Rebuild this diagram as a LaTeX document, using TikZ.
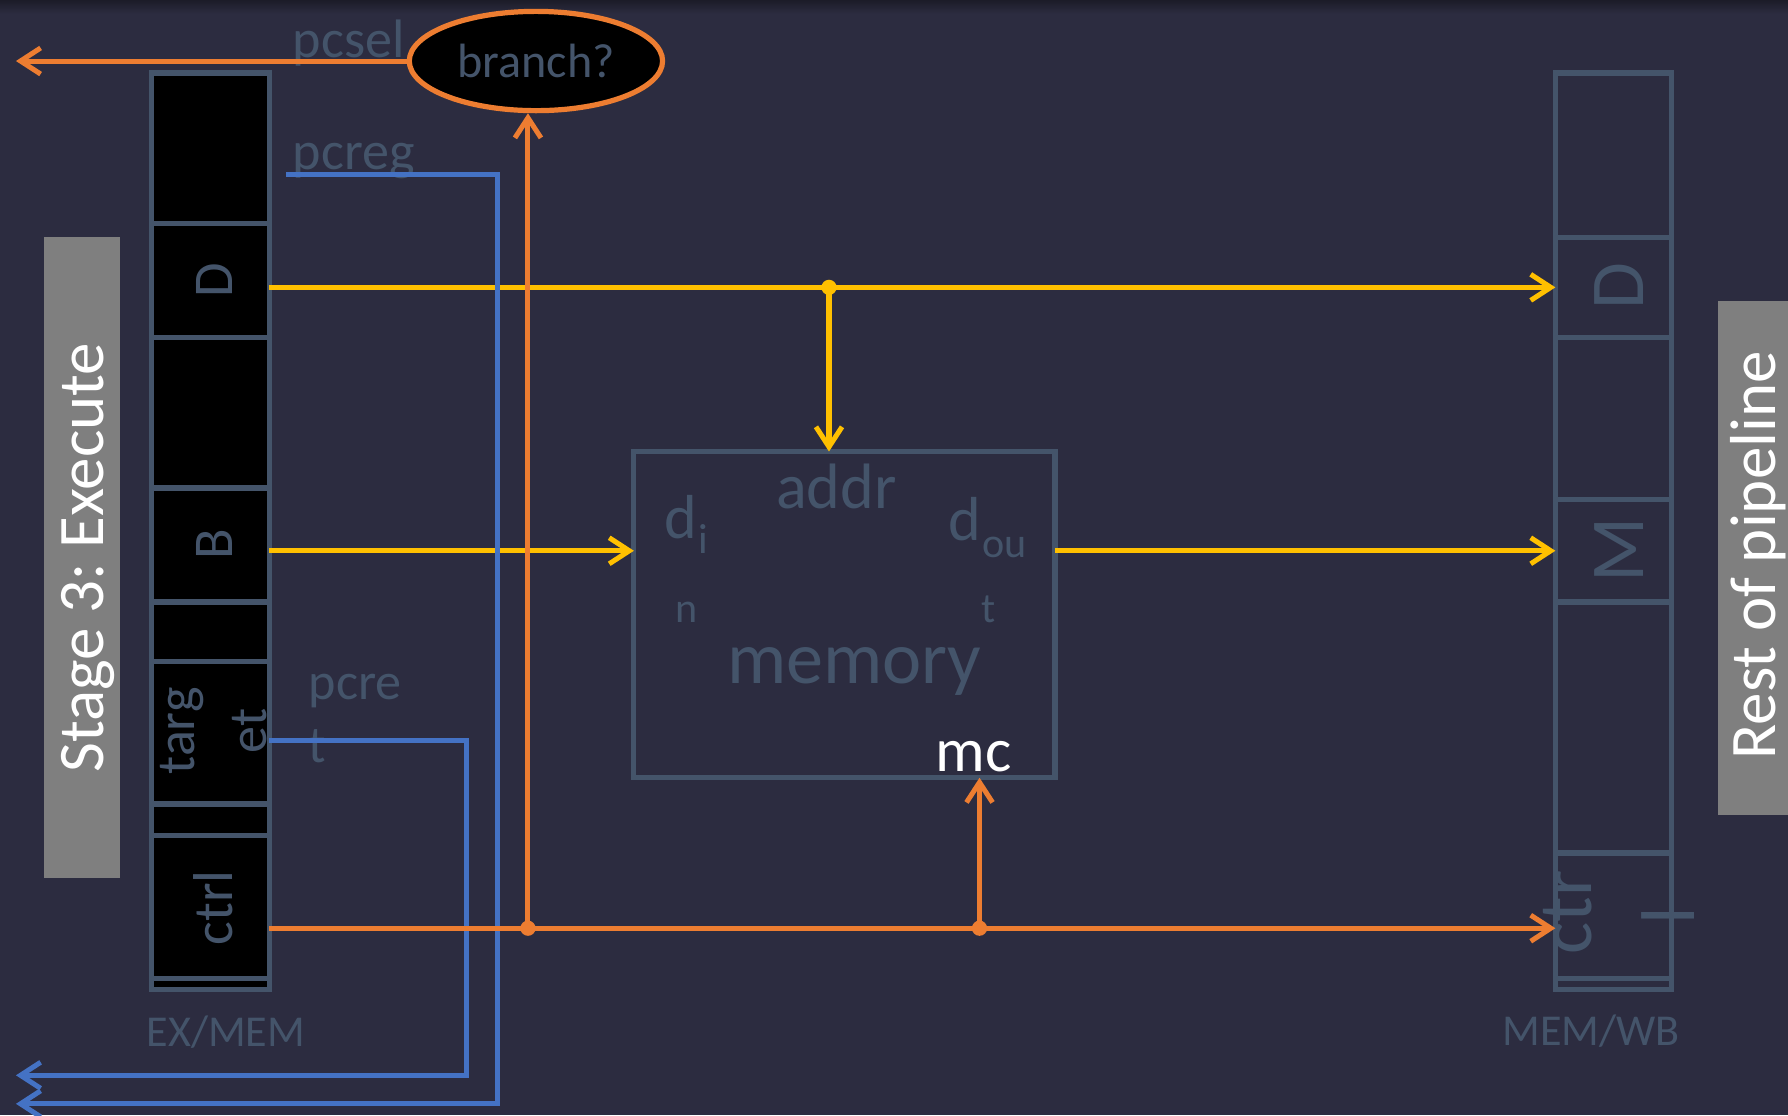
\documentclass[tikz,border=0pt]{standalone}
\usepackage{fontspec}
\setmainfont{Carlito}
\frenchspacing
\usetikzlibrary{arrows.meta,shapes.geometric}

\definecolor{bgdark}{HTML}{2C2C40}
\definecolor{bgtop}{HTML}{1C1C28}
\definecolor{slate}{HTML}{44546A}
\definecolor{ctrlorange}{HTML}{ED7D31}
\definecolor{datayellow}{HTML}{FFC000}
\definecolor{pcblue}{HTML}{4472C4}
\definecolor{stagegray}{HTML}{7F7F7F}

\newcommand{\txtsize}[1]{\fontsize{#1}{#1}\selectfont}

\tikzset{
  excell/.style={draw=slate, fill=black, line width=1.3pt, anchor=north west,
    minimum width=1.03cm, inner sep=0pt, outer sep=0pt},
  wbcell/.style={draw=slate, line width=1.3pt, anchor=north west,
    minimum width=1.02cm, inner sep=0pt, outer sep=0pt},
  lbl/.style={text=slate, inner sep=0pt, anchor=base west},
  vlbl/.style={text=slate, inner sep=0pt, rotate=90, anchor=base},
  wire/.style={line width=1.25pt, -{Straight Barb[length=5pt,width=6.5pt]}},
  ywire/.style={wire, draw=datayellow},
  owire/.style={wire, draw=ctrlorange},
  bwire/.style={wire, draw=pcblue},
}

\begin{document}
\begin{tikzpicture}[x=0.01cm, y=-0.01cm]
  % background
  \fill[bgdark] (0,0) rectangle (1568,978);
  \shade[top color=bgtop, bottom color=bgdark] (0,0) rectangle (1568,12);
  \useasboundingbox (0,0) rectangle (1568,978);

  % stage banners
  \fill[stagegray] (39,208) rectangle (105,770);
  \node[rotate=90, anchor=base, inner sep=0pt, text=white, font=\txtsize{16.2}] (stagelbl) at (90.6,489) {Stage 3: Execute};
  \fill[stagegray] (1507,264) rectangle (1568,715);
  \node[rotate=90, anchor=base, inner sep=0pt, text=white, font=\txtsize{16.2}] (restlbl) at (1557,487) {Rest of pipeline};

  % EX/MEM register
  \foreach \n/\t/\b in {ex0/64/196, exD/196/296, ex2/296/428, exB/428/528, ex4/528/580,
      extarget/580/705, ex6/705/733, exctrl/733/858, ex8/858/868}
    \node[excell, minimum height={(\b-\t)*0.01cm}] (\n) at (133,\t) {};
  \node[vlbl, font=\txtsize{14}] (exDlbl) at (204,246) {D};
  \node[vlbl, font=\txtsize{14}] (exBlbl) at (204,477) {B};
  \node[vlbl, font=\txtsize{13.5}] (targlbl) at (171,641) {targ};
  \node[vlbl, font=\txtsize{13.5}] (etlbl) at (234,641) {et};
  \node[vlbl, font=\txtsize{14}] (exctrllbl) at (204,796) {ctrl};
  \node[lbl, font=\txtsize{11}] (exmemlbl) at (128,918) {EX/MEM};

  % MEM/WB register
  \foreach \n/\t/\b in {wb0/64/208, wbD/208/296, wb2/296/438, wbM/438/528, wb4/528/748,
      wbctrl/748/858, wb6/858/868}
    \node[wbcell, minimum height={(\b-\t)*0.01cm}] (\n) at (1364,\t) {};
  \node[vlbl, font=\txtsize{19}] (wbDlbl) at (1441,251) {D};
  \node[vlbl, font=\txtsize{19}] (wbMlbl) at (1441,482) {M};
  \node[vlbl, font=\txtsize{19}] (ctrlbl) at (1396,800) {ctr};
  \node[vlbl, font=\txtsize{19}] (llbl) at (1486,803) {l};
  \node[lbl, font=\txtsize{11}] (memwblbl) at (1317,917) {MEM/WB};

  % data memory
  \node[draw=slate, line width=1.3pt, minimum width=3.69cm, minimum height=2.86cm,
    inner sep=0pt, outer sep=0pt] (mem) at (740.5,539) {};
  \node[lbl, font=\txtsize{16}] (addrlbl) at (680,445.5) {addr};
  \node[lbl, font=\txtsize{15.5}] (dinlbl) at (582,472) {d};
  \node[lbl, font=\txtsize{10.5}] (dinsub) at (612,485) {i};
  \node[lbl, font=\txtsize{10.5}] (dinsubn) at (592,545.6) {n};
  \node[lbl, font=\txtsize{15.5}] (doutlbl) at (831,473.6) {d};
  \node[lbl, font=\txtsize{10.5}] (doutsub) at (861,488.5) {ou};
  \node[lbl, font=\txtsize{10.5}] (doutsubt) at (859.6,546) {t};
  \node[lbl, font=\txtsize{18.5}] (memlbl) at (637,599) {memory};
  \node[lbl, text=white, font=\txtsize{15.5}] (mclbl) at (820,677) {mc};

  % branch decision
  \node[ellipse, draw=ctrlorange, fill=black, line width=1.3pt, minimum width=2.22cm,
    minimum height=0.87cm, inner sep=0pt, text=slate, font=\txtsize{12}] (branch) at (470,53.5) {branch?};
  \node[lbl, font=\txtsize{13.5}] (pcsellbl) at (256,50) {pcsel};
  \node[lbl, font=\txtsize{13.5}] (pcreglbl) at (256,149) {pcreg};
  \node[lbl, font=\txtsize{13}] (pcretlbl) at (270,613) {pcre};
  \node[lbl, font=\txtsize{13}] (pcretlblt) at (270,669) {t};

  % wire end points and taps
  \coordinate (pcselout) at (14,53.5);
  \coordinate (addrtap) at (727,252);
  \coordinate (brtap) at (463,814);
  \coordinate (mctap) at (859,814);
  \coordinate (pcregsrc) at (251,153);
  \coordinate (pcregbend) at (436,968);
  \coordinate (pcregout) at (14,968);
  \coordinate (pcretsrc) at (236,649);
  \coordinate (pcretbend) at (409,943);
  \coordinate (pcretout) at (14,943);

  % data
  \draw[ywire] (exD.east |- wbD.west) -- (wbD.west);
  \draw[ywire] (addrtap) -- (addrtap |- mem.north);
  \fill[datayellow] (addrtap) circle[radius=1.9pt];
  \draw[ywire] (exB.east |- wbM.west) -- (mem.west |- wbM.west);
  \draw[ywire] (mem.east |- wbM.west) -- (wbM.west);

  % pc back to fetch
  \draw[bwire] (pcregsrc) -| (pcregbend) -- (pcregout);
  \draw[bwire] (pcretsrc) -| (pcretbend) -- (pcretout);

  % control
  \draw[owire] (branch.west) -- (pcselout);
  \draw[owire] (exctrl.east |- brtap) -- (wbctrl.west |- brtap);
  \draw[owire] (brtap) -- (brtap |- branch.south);
  \draw[owire] (mctap) -- (mctap |- mem.south);
  \fill[ctrlorange] (brtap) circle[radius=1.9pt];
  \fill[ctrlorange] (mctap) circle[radius=1.9pt];
\end{tikzpicture}
\end{document}
